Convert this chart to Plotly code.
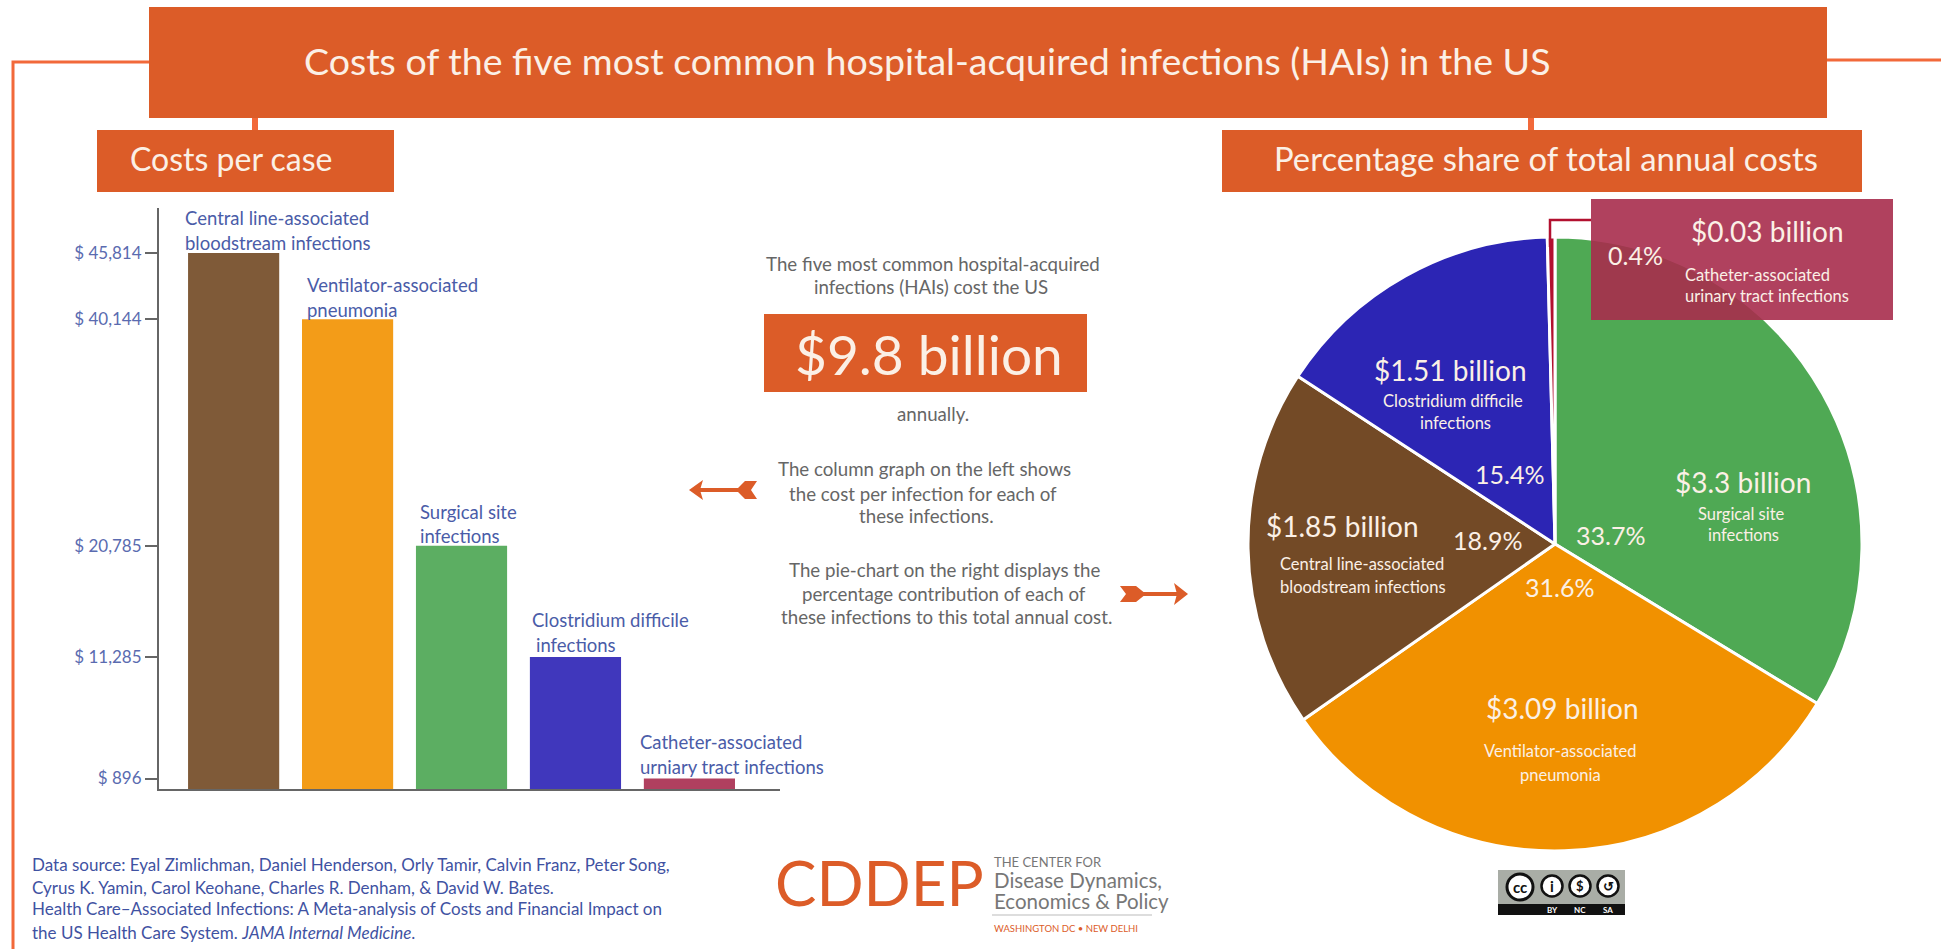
import plotly.graph_objects as go

W, H = 1941, 949
FONT = "Lato"
ORANGE = "#DC5C28"
LINE = "#F2693A"
CREAM = "#FBF0E6"
BLUE = "#4A5CA8"
GREY = "#666666"

# ---- data ----
bar_categories = ["Central line-associated bloodstream infections", "Ventilator-associated pneumonia",
                  "Surgical site infections", "Clostridium difficile infections",
                  "Catheter-associated urinary tract infections"]
cost_per_case = [45814, 40144, 20785, 11285, 896]
bar_colors = ["#7F5A38", "#F39C18", "#5CAE62", "#4037BC", "#B0405F"]

pie_labels = ["Surgical site infections", "Ventilator-associated pneumonia",
              "Central line-associated bloodstream infections", "Clostridium difficile infections",
              "Catheter-associated urinary tract infections"]
pie_share = [33.7, 31.6, 18.9, 15.4, 0.4]
pie_billions = ["$3.3 billion", "$3.09 billion", "$1.85 billion", "$1.51 billion", "$0.03 billion"]
pie_colors = ["#4FA954", "#F19100", "#734A26", "#2C25B4", "#B2102F"]

tick_labels = [f"$ {v:,}" for v in cost_per_case]


def px(x):
    return x / W


def py(y):
    return 1 - y / H


annotations = []
shapes = []


def text(x, y, s, size, color=GREY, anchor="center", family=FONT, **fontkw):
    annotations.append(dict(x=px(x), y=py(y), xref="paper", yref="paper", text=s, showarrow=False,
                            xanchor=anchor, yanchor="middle", align=anchor,
                            font=dict(size=size, color=color, family=family, **fontkw)))


def rect(x0, y0, x1, y1, fill, line=None, layer="above"):
    shapes.append(dict(type="rect", xref="paper", yref="paper", x0=px(x0), x1=px(x1), y0=py(y0), y1=py(y1),
                       fillcolor=fill, line=dict(width=0) if line is None else line, layer=layer))


def seg(pts, color, width):
    path = "M " + " L ".join(f"{px(a):.5f},{py(b):.5f}" for a, b in pts)
    shapes.append(dict(type="path", xref="paper", yref="paper", path=path,
                       line=dict(color=color, width=width), layer="above"))


def poly(pts, fill):
    path = "M " + " L ".join(f"{px(a):.5f},{py(b):.5f}" for a, b in pts) + " Z"
    shapes.append(dict(type="path", xref="paper", yref="paper", path=path, fillcolor=fill,
                       line=dict(width=0), layer="above"))


def circle(cx, cy, r, fill, lc, lw):
    shapes.append(dict(type="circle", xref="paper", yref="paper", x0=px(cx - r), x1=px(cx + r),
                       y0=py(cy + r), y1=py(cy - r), fillcolor=fill, line=dict(color=lc, width=lw), layer="above"))


# ---- frame and headers ----
seg([(149, 62), (13, 62), (13, 949)], LINE, 3)
seg([(1827, 60), (1941, 60)], LINE, 3)
seg([(255, 118), (255, 130)], LINE, 6)
seg([(1531, 118), (1531, 130)], LINE, 6)
rect(149, 7, 1827, 118, ORANGE)
rect(97, 130, 394, 192, ORANGE)
rect(1222, 130, 1862, 192, ORANGE)
text(927, 60, "Costs of the five most common hospital-acquired infections (HAIs) in the US", 37.5, CREAM)
text(128, 159, "Costs per case", 32, CREAM, "left")
text(1546, 159, "Percentage share of total annual costs", 32.8, CREAM)

# ---- bar labels ----
for x, y, s in [(183, 218, "Central line-associated"), (183, 243, "bloodstream infections"),
                (305, 285, "Ventilator-associated"), (305, 310, "pneumonia"),
                (418, 512, "Surgical site"), (418, 536, "infections"),
                (530, 620, "Clostridium difficile"), (534, 645, "infections"),
                (638, 742, "Catheter-associated"), (638, 767, "urniary tract infections")]:
    text(x, y, s, 18.5, BLUE, "left")

# ---- centre column ----
for x, y, s in [(933, 264, "The five most common hospital-acquired"), (931, 287, "infections (HAIs) cost the US"),
                (933, 414, "annually."),
                (924, 469, "The column graph on the left shows"), (923, 494, "the cost per infection for each of"),
                (926, 516, "these infections."),
                (944, 570, "The pie-chart on the right displays the"), (944, 594, "percentage contribution of each of"),
                (946, 617, "these infections to this total annual cost.")]:
    text(x, y, s, 18.7, GREY)
rect(764, 314, 1087, 392, ORANGE)
text(929, 354, "$9.8 billion", 55, CREAM)

# arrows
seg([(700, 490), (745, 490)], ORANGE, 4)
poly([(689, 490), (703, 480), (700, 490), (703, 500)], ORANGE)
poly([(736, 490), (745, 481), (757, 481), (751, 490), (757, 499), (745, 499)], ORANGE)
seg([(1135, 594), (1178, 594)], ORANGE, 4)
poly([(1188, 594), (1174, 583), (1177, 594), (1174, 605)], ORANGE)
poly([(1120, 586), (1136, 586), (1146, 594), (1136, 602), (1120, 602), (1126, 594)], ORANGE)

# ---- pie call-out ----
seg([(1550, 247), (1550, 220), (1591, 220)], "#B2102F", 2.5)
rect(1591, 199, 1893, 320, "rgba(167,44,77,0.9)")

pie_text_pos = [(1743, 482), (1562, 708), (1342, 526), (1450, 370), (1767, 231)]
pct_pos = [(1610, 535), (1559, 587), (1487, 540), (1509, 474), (1635, 255)]
for (x, y), s in zip(pie_text_pos, pie_billions):
    text(x, y, s, 28, CREAM)
for (x, y), v in zip(pct_pos, pie_share):
    text(x, y, f"{v}%", 25, CREAM)
for x, y, s in [(1741, 514, "Surgical site"), (1743, 535, "infections"),
                (1560, 751, "Ventilator-associated"), (1560, 775, "pneumonia"),
                (1362, 564, "Central line-associated"), (1363, 587, "bloodstream infections"),
                (1453, 401, "Clostridium difficile"), (1455, 423, "infections"),
                (1757, 275, "Catheter-associated"), (1767, 296, "urinary tract infections")]:
    text(x, y, s, 16.5, CREAM)

# ---- footer ----
for y, s in [(864, "Data source: Eyal Zimlichman, Daniel Henderson, Orly Tamir, Calvin Franz, Peter Song,"),
             (887, "Cyrus K. Yamin, Carol Keohane, Charles R. Denham, &amp; David W. Bates."),
             (908, "Health Care\u2013Associated Infections: A Meta-analysis of Costs and Financial Impact on"),
             (932, "the US Health Care System. <i>JAMA Internal Medicine</i>.")]:
    text(30, y, s, 17, "#3F52A2", "left")

# ---- logo ----
text(773, 882, "CDDEP", 62, ORANGE, "left", FONT)
text(992, 862, "THE CENTER FOR", 13, "#777777", "left")
text(992, 880, "Disease Dynamics,", 20.5, "#777777", "left")
text(992, 901, "Economics &amp; Policy", 20.5, "#777777", "left")
seg([(992, 915), (1152, 915)], "#DDDDDD", 2)
text(992, 928, "WASHINGTON DC \u2022 NEW DELHI", 9.5, ORANGE, "left")

# ---- CC badge ----
rect(1498, 870, 1625, 915, "#A9ADA6")
rect(1498, 904, 1625, 915, "#111111")
circle(1520, 887, 13, "#FFFFFF", "#111111", 3)
for cx in (1552, 1580, 1608):
    circle(cx, 886, 10.5, "#FFFFFF", "#111111", 2.5)
text(1520, 887, "<b>cc</b>", 15, "#111111")
text(1552, 886, "<b>i</b>", 15, "#111111")
text(1580, 886, "<b>$</b>", 13, "#111111")
text(1608, 886, "<b>\u21ba</b>", 13, "#111111")
for cx, s in zip((1552, 1580, 1608), ("BY", "NC", "SA")):
    text(cx, 910, f"<b>{s}</b>", 8, "#FFFFFF")

# ---- traces ----
fig = go.Figure()
fig.add_trace(go.Bar(x=bar_categories, y=cost_per_case, marker=dict(color=bar_colors, line=dict(width=0)),
                     width=0.8, hoverinfo="x+y", showlegend=False))
PIE_R = 307
PIE_CY = 544
fig.add_trace(go.Pie(labels=pie_labels, values=pie_share, sort=False, direction="clockwise", rotation=0,
                     marker=dict(colors=pie_colors, line=dict(color="#FFFFFF", width=3)),
                     textinfo="none", showlegend=False,
                     domain=dict(x=[px(1555 - PIE_R), px(1555 + PIE_R)], y=[py(PIE_CY + PIE_R), py(PIE_CY - PIE_R)])))

Y_TOP = (789 - 208) / (536 / 45814)
fig.update_layout(
    width=W, height=H, autosize=False, margin=dict(l=0, r=0, t=0, b=0),
    paper_bgcolor="#FFFFFF", plot_bgcolor="#FFFFFF", font=dict(family=FONT),
    bargap=0.2, annotations=annotations, shapes=shapes,
    xaxis=dict(domain=[px(159), px(780)], range=[-0.655, 4.795], type="category", showticklabels=False,
               ticks="", showgrid=False, zeroline=False, showline=True, linecolor="#666666", linewidth=2,
               anchor="y"),
    yaxis=dict(domain=[py(789), py(208)], range=[0, Y_TOP], tickmode="array", tickvals=cost_per_case,
               ticktext=tick_labels, ticks="outside", ticklen=12, tickwidth=2, tickcolor="#666666",
               tickfont=dict(size=17, color="#5A6BB0", family=FONT), showgrid=False, zeroline=False,
               showline=True, linecolor="#666666", linewidth=2, anchor="x"),
)
fig.write_html("out.html", config=dict(displayModeBar=False),
               post_script="document.body.style.margin='0';document.body.style.overflow='hidden';")
